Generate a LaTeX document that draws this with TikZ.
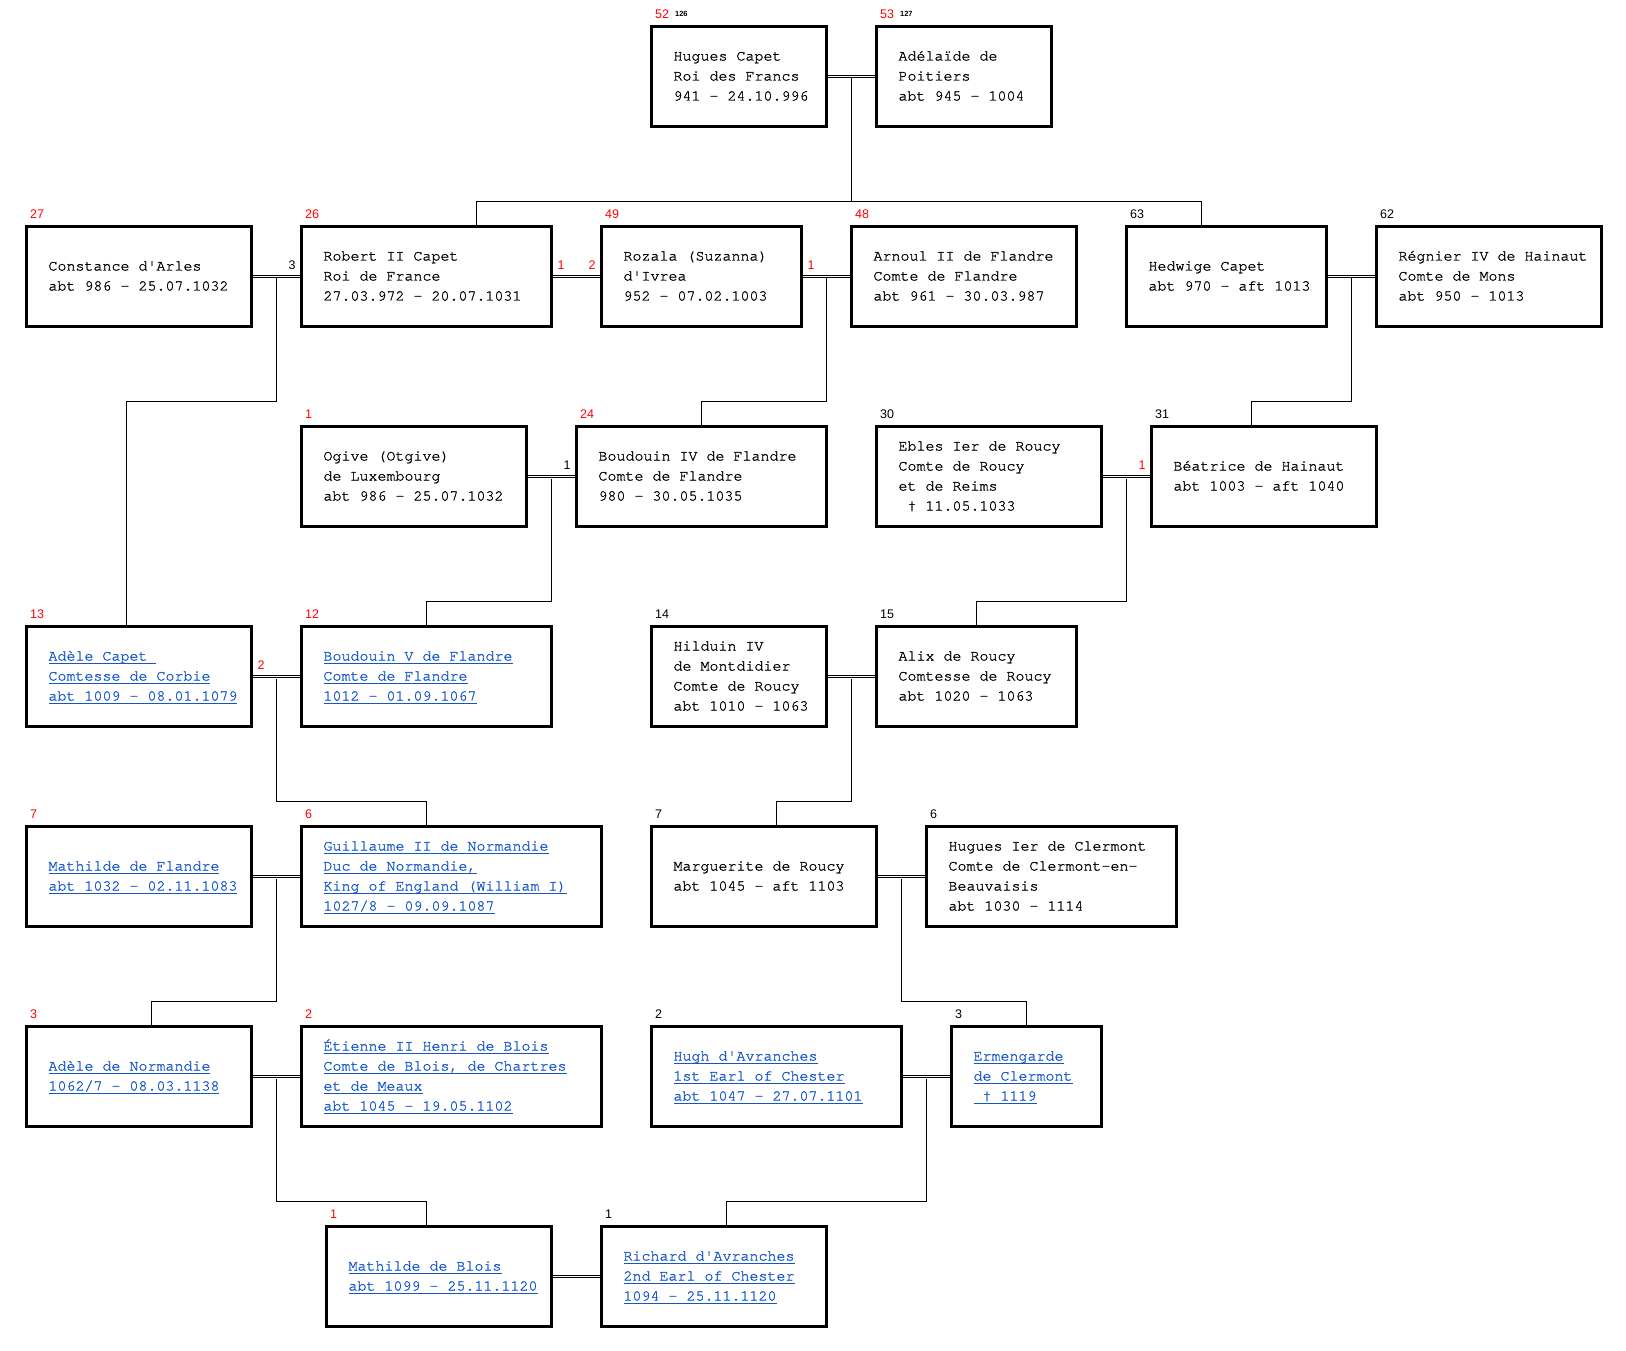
\documentclass[tikz,border=0pt]{standalone}
\usepackage{fontspec}
\newfontfamily\monofont[FakeBold=1.2]{TeX Gyre Cursor}
\newfontfamily\numfont{Liberation Sans}
\definecolor{lnk}{RGB}{20,85,200}
\newsavebox\lkbox
\newcommand\lk[1]{\leavevmode\sbox\lkbox{#1}\rlap{\rule[-3pt]{\wd\lkbox}{1pt}}\usebox\lkbox}
\newcommand\gen[1]{\raisebox{2pt}{\color{black}\fontsize{7.5}{7.5}\selectfont\bfseries #1}}
\newcommand\q{\textquotesingle}

\begin{document}
\begin{tikzpicture}[x=1pt,y=1pt,
  pers/.style={draw,line width=3pt,anchor=north west,minimum height=100pt,
    inner xsep=0pt,inner ysep=0pt,align=flush left,text width=#1,
    font=\monofont\fontsize{15}{20}\selectfont,
    execute at begin node={\leftskip=22pt\strut},
    execute at end node={\strut}},
  link/.style={text=lnk},
  num/.style={font=\numfont\fontsize{12.5}{12.5}\selectfont,inner sep=0pt,
    anchor=base west,xshift=5pt,yshift=6.5pt},
  mkl/.style={font=\numfont\fontsize{12.5}{12.5}\selectfont,inner sep=0pt,
    anchor=base west,xshift=4pt,yshift=7pt},
  mkr/.style={font=\numfont\fontsize{12.5}{12.5}\selectfont,inner sep=0pt,
    anchor=base east,xshift=-4pt,yshift=7pt},
  wed/.style={double,double distance=1.6pt,line width=1pt},
  kid/.style={line width=1.6pt}]
\useasboundingbox (0,0) rectangle (1626,-1351);

% generation 1
\node[pers=175pt,label={[num,red]north west:{52\hspace{6pt}\gen{126}}}] (hugues) at (650,-25)
  {Hugues Capet\\Roi des Francs\\941 - 24.10.996};
\node[pers=175pt,label={[num,red]north west:{53\hspace{6pt}\gen{127}}}] (adelaide) at (875,-25)
  {Adélaïde de\\Poitiers\\abt 945 - 1004};

% generation 2
\node[pers=225pt,label={[num,red]north west:27}] (constance) at (25,-225)
  {Constance d\q Arles\\abt 986 - 25.07.1032};
\node[pers=250pt,label={[num,red]north west:26}] (robert) at (300,-225)
  {Robert II Capet\\Roi de France\\27.03.972 - 20.07.1031};
\node[pers=200pt,label={[num,red]north west:49}] (rozala) at (600,-225)
  {Rozala (Suzanna)\\d\q Ivrea\\952 - 07.02.1003};
\node[pers=225pt,label={[num,red]north west:48}] (arnoul) at (850,-225)
  {Arnoul II de Flandre\\Comte de Flandre\\abt 961 - 30.03.987};
\node[pers=200pt,label={[num]north west:63}] (hedwige) at (1125,-225)
  {Hedwige Capet\\abt 970 - aft 1013};
\node[pers=225pt,label={[num]north west:62}] (regnier) at (1375,-225)
  {Régnier IV de Hainaut\\Comte de Mons\\abt 950 - 1013};

% generation 3
\node[pers=225pt,label={[num,red]north west:1}] (ogive) at (300,-425)
  {Ogive (Otgive)\\de Luxembourg\\abt 986 - 25.07.1032};
\node[pers=250pt,label={[num,red]north west:24}] (boudouiniv) at (575,-425)
  {Boudouin IV de Flandre\\Comte de Flandre\\980 - 30.05.1035};
\node[pers=225pt,label={[num]north west:30}] (ebles) at (875,-425)
  {Ebles Ier de Roucy\\Comte de Roucy\\et de Reims\\\hspace*{9pt}† 11.05.1033};
\node[pers=225pt,label={[num]north west:31}] (beatrice) at (1150,-425)
  {Béatrice de Hainaut\\abt 1003 - aft 1040};

% generation 4
\node[pers=225pt,link,label={[num,red]north west:13}] (adelecapet) at (25,-625)
  {\lk{Adèle Capet\ }\\\lk{Comtesse de Corbie}\\\lk{abt 1009 - 08.01.1079}};
\node[pers=250pt,link,label={[num,red]north west:12}] (boudouinv) at (300,-625)
  {\lk{Boudouin V de Flandre}\\\lk{Comte de Flandre}\\\lk{1012 - 01.09.1067}};
\node[pers=175pt,label={[num]north west:14}] (hilduin) at (650,-625)
  {Hilduin IV\\de Montdidier\\Comte de Roucy\\abt 1010 - 1063};
\node[pers=200pt,label={[num]north west:15}] (alix) at (875,-625)
  {Alix de Roucy\\Comtesse de Roucy\\abt 1020 - 1063};

% generation 5
\node[pers=225pt,link,label={[num,red]north west:7}] (mathildef) at (25,-825)
  {\lk{Mathilde de Flandre}\\\lk{abt 1032 - 02.11.1083}};
\node[pers=300pt,link,label={[num,red]north west:6}] (guillaume) at (300,-825)
  {\lk{Guillaume II de Normandie}\\\lk{Duc de Normandie,}\\\lk{King of England (William I)}\\\lk{1027/8 - 09.09.1087}};
\node[pers=225pt,label={[num]north west:7}] (marguerite) at (650,-825)
  {Marguerite de Roucy\\abt 1045 - aft 1103};
\node[pers=250pt,label={[num]north west:6}] (huguesi) at (925,-825)
  {Hugues Ier de Clermont\\Comte de Clermont-en-\\Beauvaisis\\abt 1030 - 1114};

% generation 6
\node[pers=225pt,link,label={[num,red]north west:3}] (adelen) at (25,-1025)
  {\lk{Adèle de Normandie}\\\lk{1062/7 - 08.03.1138}};
\node[pers=300pt,link,label={[num,red]north west:2}] (etienne) at (300,-1025)
  {\lk{Étienne II Henri de Blois}\\\lk{Comte de Blois, de Chartres}\\\lk{et de Meaux}\\\lk{abt 1045 - 19.05.1102}};
\node[pers=250pt,link,label={[num]north west:2}] (hugh) at (650,-1025)
  {\lk{Hugh d\q Avranches}\\\lk{1st Earl of Chester}\\\lk{abt 1047 - 27.07.1101}};
\node[pers=150pt,link,label={[num]north west:3}] (ermengarde) at (950,-1025)
  {\lk{Ermengarde}\\\lk{de Clermont}\\\lk{\ † 1119}};

% generation 7
\node[pers=225pt,link,label={[num,red]north west:1}] (mathildeb) at (325,-1225)
  {\lk{Mathilde de Blois}\\\lk{abt 1099 - 25.11.1120}};
\node[pers=225pt,link,label={[num]north west:1}] (richard) at (600,-1225)
  {\lk{Richard d\q Avranches}\\\lk{2nd Earl of Chester}\\\lk{1094 - 25.11.1120}};

% marriages
\draw[wed] (hugues.east) -- coordinate[midway] (m1) (adelaide.west);
\draw[wed] (constance.east) -- coordinate[midway] (m2) (robert.west) node[mkr]{3};
\draw[wed] (robert.east) node[mkl,red]{1} -- (rozala.west) node[mkr,red]{2};
\draw[wed] (rozala.east) node[mkl,red]{1} -- coordinate[midway] (m3) (arnoul.west);
\draw[wed] (hedwige.east) -- coordinate[midway] (m4) (regnier.west);
\draw[wed] (ogive.east) -- coordinate[midway] (m5) (boudouiniv.west) node[mkr]{1};
\draw[wed] (ebles.east) -- coordinate[midway] (m6) (beatrice.west) node[mkr,red]{1};
\draw[wed] (adelecapet.east) node[mkl,red]{2} -- coordinate[midway] (m7) (boudouinv.west);
\draw[wed] (hilduin.east) -- coordinate[midway] (m8) (alix.west);
\draw[wed] (mathildef.east) -- coordinate[midway] (m9) (guillaume.west);
\draw[wed] (marguerite.east) -- coordinate[midway] (m10) (huguesi.west);
\draw[wed] (adelen.east) -- coordinate[midway] (m11) (etienne.west);
\draw[wed] (hugh.east) -- coordinate[midway] (m12) (ermengarde.west);
\draw[wed] (mathildeb.east) -- (richard.west);

% children
\draw[kid] ([yshift=-2pt]m1) -- ++(0,-123) -| ([xshift=50pt]robert.north);
\draw[kid] ([yshift=-2pt]m1) -- ++(0,-123) -| ([xshift=-25pt]hedwige.north);
\draw[kid] ([yshift=-2pt]m2) -- ++(0,-123) -| ([xshift=-12.5pt]adelecapet.north);
\draw[kid] ([yshift=-2pt]m3) -- ++(0,-123) -| (boudouiniv.north);
\draw[kid] ([yshift=-2pt]m4) -- ++(0,-123) -| ([xshift=-12.5pt]beatrice.north);
\draw[kid] ([yshift=-2pt]m5) -- ++(0,-123) -| (boudouinv.north);
\draw[kid] ([yshift=-2pt]m6) -- ++(0,-123) -| (alix.north);
\draw[kid] ([yshift=-2pt]m7) -- ++(0,-123) -| ([xshift=-25pt]guillaume.north);
\draw[kid] ([yshift=-2pt]m8) -- ++(0,-123) -| ([xshift=12.5pt]marguerite.north);
\draw[kid] ([yshift=-2pt]m9) -- ++(0,-123) -| ([xshift=12.5pt]adelen.north);
\draw[kid] ([yshift=-2pt]m10) -- ++(0,-123) -| (ermengarde.north);
\draw[kid] ([yshift=-2pt]m11) -- ++(0,-123) -| ([xshift=-12.5pt]mathildeb.north);
\draw[kid] ([yshift=-2pt]m12) -- ++(0,-123) -| ([xshift=12.5pt]richard.north);
\end{tikzpicture}
\end{document}
